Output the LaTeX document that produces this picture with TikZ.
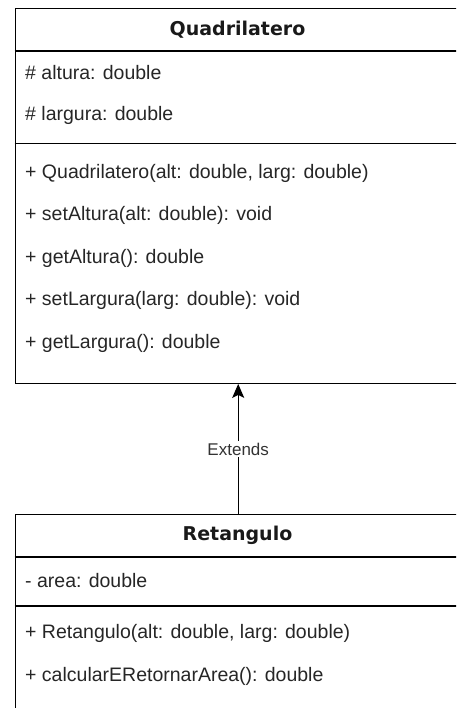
\documentclass[tikz,border=0pt]{standalone}
\usepackage{fontspec}
\setmainfont{Liberation Sans}
\newfontfamily\titlefont{DejaVu Sans}
\usetikzlibrary{arrows.meta}
\begin{document}
\begin{tikzpicture}[x=1pt, y=-1pt]
\tikzstyle{classbox} = [draw, line width=1.4pt, rectangle, anchor=north west, inner sep=0pt, minimum width=446pt];
\tikzstyle{classname} = [font=\titlefont\bfseries\fontsize{19}{22}\selectfont, text=black!90];
\tikzstyle{member} = [anchor=west, inner sep=0pt, font=\fontsize{19.5}{23}\selectfont, text=black!85];
\tikzstyle{sep} = [line width=1.4pt];
\clip (0,0) rectangle (456,708);
\useasboundingbox (0,0) rectangle (456,708);
% superclass
\node[classbox, minimum height=374.5pt] (quad) at (14.5,8) {};
\node[classname] (quadname) at (237.5,30) {Quadrilatero};
\draw[sep] (14.5,51) -- (quad.east |- 0,51);
\node[member] (alt) at (25,73) {\# altura: double};
\node[member] (larg) at (25,115) {\# largura: double};
\draw[sep] (14.5,143.5) -- (quad.east |- 0,143.5);
\node[member] (m1) at (25,173) {+ Quadrilatero(alt: double, larg: double)};
\node[member] (m2) at (25,215.5) {+ setAltura(alt: double): void};
\node[member] (m3) at (25,258) {+ getAltura(): double};
\node[member] (m4) at (25,300.5) {+ setLargura(larg: double): void};
\node[member] (m5) at (25,343) {+ getLargura(): double};
% subclass
\node[classbox, minimum height=203pt] (ret) at (14.5,514) {};
\node[classname] (retname) at (237.5,535.5) {Retangulo};
\draw[sep] (14.5,557) -- (ret.east |- 0,557);
\node[member] (area) at (25,581) {- area: double};
\draw[sep] (14.5,606) -- (ret.east |- 0,606);
\node[member] (r1) at (25,633) {+ Retangulo(alt: double, larg: double)};
\node[member] (r2) at (25,676) {+ calcularERetornarArea(): double};
% inheritance
\draw[line width=1.4pt, -{Stealth[length=14pt, width=12pt, inset=3pt]}] (ret.north) -- node[fill=white, inner sep=2pt, font=\fontsize{17}{20}\selectfont, text=black!80] (ext) {Extends} (quad.south);
\end{tikzpicture}
\end{document}
